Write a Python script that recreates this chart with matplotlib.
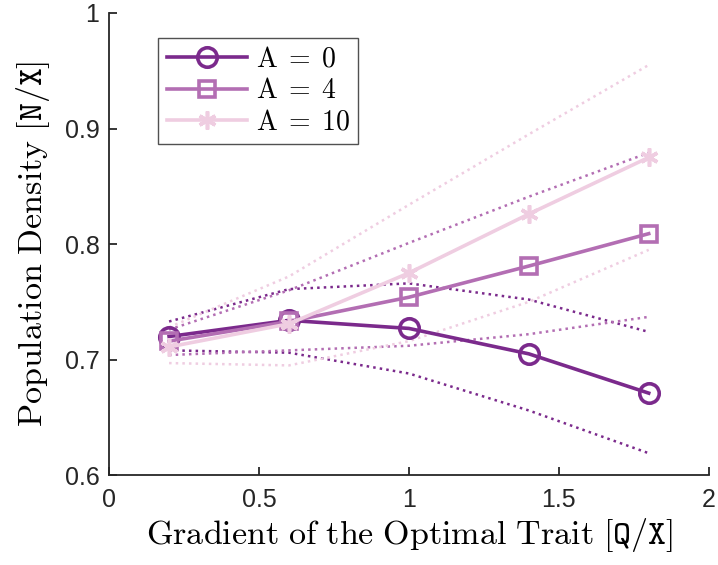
import matplotlib
matplotlib.use("Agg")
import matplotlib.pyplot as plt
import numpy as np

plt.rcParams['mathtext.fontset'] = 'cm'
plt.rcParams['font.family'] = ['Liberation Sans', 'DejaVu Sans']

# gradient values and population densities for each A
grad = [0.2, 0.6, 1.0, 1.4, 1.8]
labels = ['0', '4', '10']
mean_vals = [
    [0.720, 0.734, 0.727, 0.705, 0.671],
    [0.716, 0.733, 0.754, 0.781, 0.809],
    [0.711, 0.731, 0.775, 0.826, 0.875],
]
upper_vals = [
    [0.733, 0.761, 0.766, 0.752, 0.724],
    [0.726, 0.760, 0.801, 0.841, 0.879],
    [0.728, 0.772, 0.834, 0.895, 0.955],
]
lower_vals = [
    [0.708, 0.706, 0.688, 0.656, 0.619],
    [0.704, 0.708, 0.712, 0.722, 0.737],
    [0.697, 0.695, 0.716, 0.750, 0.795],
]
colors = ['#7b2a8c', '#b36eb3', '#efcde1']
markers = ['o', 's', (6, 2, 0)]
msizes = [14, 12, 13]

fig = plt.figure(figsize=(7.18, 5.65), dpi=100)
ax = fig.add_axes([0.152, 0.159, 0.835, 0.818])

for i in range(3):
    ax.plot(grad, upper_vals[i], ':', color=colors[i], lw=1.8, zorder=2)
    ax.plot(grad, lower_vals[i], ':', color=colors[i], lw=1.8, zorder=2)

for i in range(3):
    ax.plot(grad, mean_vals[i], '-', color=colors[i], lw=2.6,
            marker=markers[i], ms=msizes[i], mfc='none', mew=2.6,
            mec=colors[i], label=r'$\mathrm{A}\;=\;%s$' % labels[i], zorder=3)

ax.set_xlim(0, 2)
ax.set_ylim(0.6, 1)
ax.set_xticks([0, 0.5, 1, 1.5, 2])
ax.set_xticklabels(['0', '0.5', '1', '1.5', '2'])
ax.set_yticks([0.6, 0.7, 0.8, 0.9, 1])
ax.set_yticklabels(['0.6', '0.7', '0.8', '0.9', '1'])
ax.tick_params(direction='in', length=6, width=1.3, labelsize=18,
               colors='#262626')
ax.tick_params(axis='x', pad=9)
ax.tick_params(axis='y', pad=7)
for s in ['top', 'right']:
    ax.spines[s].set_visible(False)
for s in ['left', 'bottom']:
    ax.spines[s].set_linewidth(1.3)
    ax.spines[s].set_color('#262626')

ax.set_xlabel(r'$\mathrm{Gradient\ of\ the\ Optimal\ Trait}\ [\mathtt{Q}/\mathtt{X}]$',
              fontsize=24.5, labelpad=3)
ax.set_ylabel(r'$\mathrm{Population\ Density}\ [\mathtt{N}/\mathtt{X}]$',
              fontsize=24.5, labelpad=9)

leg = ax.legend(loc='upper left', bbox_to_anchor=(0.082, 0.945), fontsize=20,
                handlelength=2.9, frameon=True, fancybox=False,
                borderpad=0.3, labelspacing=0.2, handletextpad=0.3,
                borderaxespad=0)
leg.get_frame().set_edgecolor('#262626')
leg.get_frame().set_linewidth(1.0)

fig.savefig('out.png', dpi=100)
